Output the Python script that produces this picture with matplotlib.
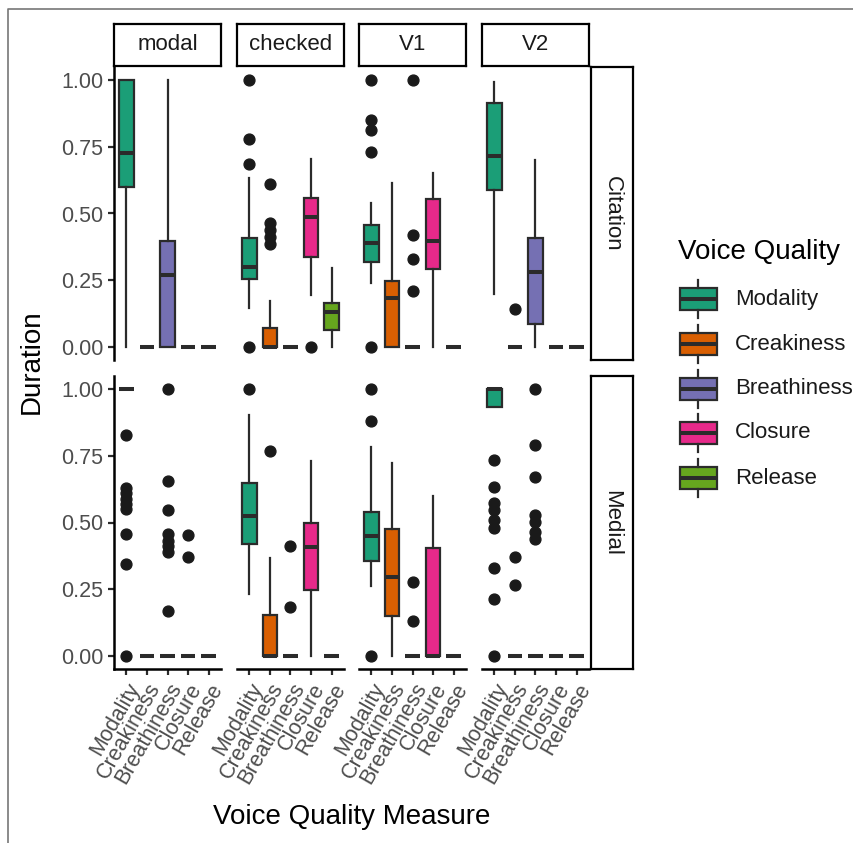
import numpy as np
import matplotlib
matplotlib.use("Agg")
import matplotlib.pyplot as plt
from matplotlib.lines import Line2D

plt.rcParams['font.family'] = ['Liberation Sans', 'DejaVu Sans']

# ---- data ----
measures = ["Modality", "Creakiness", "Breathiness", "Closure", "Release"]
vowels = ["modal", "checked", "V1", "V2"]
contexts = ["Citation", "Medial"]
colors = ["#1B9E77", "#D95F02", "#7570B3", "#E7298A", "#66A61E"]

# shape: [context][vowel][measure]
whis_lo = [
    [[0, 0, 0, 0, 0], [0.144, 0, 0, 0.194, 0], [0.24, 0, 0, 0, 0], [0.197, 0, 0, 0, 0]],
    [[1.0, 0, 0, 0, 0], [0.232, 0, 0, 0, 0], [0.26, 0, 0, 0, 0], [0.934, 0, 0, 0, 0]],
]
q1 = [
    [[0.598, 0, 0, 0, 0], [0.253, 0, 0, 0.338, 0.063], [0.317, 0, 0, 0.293, 0], [0.588, 0, 0.084, 0, 0]],
    [[1.0, 0, 0, 0, 0], [0.419, 0, 0, 0.245, 0], [0.356, 0.15, 0, 0, 0], [0.934, 0, 0, 0, 0]],
]
median = [
    [[0.726, 0, 0.269, 0, 0], [0.30, 0, 0, 0.488, 0.129], [0.39, 0.182, 0, 0.398, 0], [0.717, 0, 0.279, 0, 0]],
    [[1.0, 0, 0, 0, 0], [0.526, 0, 0, 0.407, 0], [0.449, 0.297, 0, 0, 0], [1.0, 0, 0, 0, 0]],
]
q3 = [
    [[1.0, 0, 0.397, 0, 0], [0.407, 0.069, 0, 0.557, 0.165], [0.457, 0.247, 0, 0.553, 0], [0.914, 0, 0.407, 0, 0]],
    [[1.0, 0, 0, 0, 0], [0.647, 0.154, 0, 0.499, 0], [0.538, 0.476, 0, 0.406, 0], [1.0, 0, 0, 0, 0]],
]
whis_hi = [
    [[1.0, 0, 1.0, 0, 0], [0.632, 0.173, 0, 0.703, 0.294], [0.538, 0.613, 0, 0.653, 0], [0.995, 0, 0.701, 0, 0]],
    [[1.0, 0, 0, 0, 0], [0.903, 0.366, 0, 0.731, 0], [0.784, 0.722, 0, 0.60, 0], [1.0, 0, 0, 0, 0]],
]
outliers = [
    [
        [[], [], [], [], []],
        [[1.0, 0.78, 0.685, 0.0], [0.611, 0.465, 0.438, 0.413, 0.386], [], [0.0], []],
        [[1.0, 0.851, 0.813, 0.732, 0.0], [], [1.0, 0.419, 0.33, 0.209], [], []],
        [[], [0.14], [], [], []],
    ],
    [
        [[0.828, 0.63, 0.61, 0.59, 0.57, 0.55, 0.455, 0.343, 0.0], [],
         [1.0, 0.657, 0.547, 0.455, 0.43, 0.41, 0.39, 0.169], [0.453, 0.37], []],
        [[1.0], [0.768], [0.413, 0.181], [], []],
        [[1.0, 0.881, 0.0], [], [0.275, 0.132], [], []],
        [[0.734, 0.632, 0.573, 0.547, 0.51, 0.48, 0.331, 0.212, 0.0], [0.372, 0.266],
         [1.0, 0.79, 0.669, 0.528, 0.503, 0.466, 0.437], [], []],
    ],
]

# ---- layout in pixels ----
W, H = 854, 843
fig = plt.figure(figsize=(W / 100, H / 100), dpi=100)

def px(l, t, w, h):
    return [l / W, 1 - (t + h) / H, w / W, h / H]

col_left = [114, 237, 359, 482]
panel_w = 107
row_top = [67, 376]
panel_h = 293

line_col = "#2b2b2b"
box_lw = 1.6
med_lw = 2.9

for r in range(2):
    for c in range(4):
        ax = fig.add_axes(px(col_left[c], row_top[r], panel_w, panel_h))
        stats = []
        for k in range(5):
            stats.append(dict(
                med=median[r][c][k], q1=q1[r][c][k], q3=q3[r][c][k],
                whislo=whis_lo[r][c][k], whishi=whis_hi[r][c][k],
                fliers=outliers[r][c][k]))
        bp = ax.bxp(stats, positions=range(1, 6), widths=0.72, patch_artist=True,
                    showcaps=False,
                    boxprops=dict(edgecolor=line_col, linewidth=box_lw),
                    whiskerprops=dict(color=line_col, linewidth=box_lw),
                    medianprops=dict(color=line_col, linewidth=med_lw, solid_capstyle="butt"),
                    flierprops=dict(marker="o", markersize=7.8, markerfacecolor="#1a1a1a",
                                    markeredgecolor="#1a1a1a"))
        for patch, col in zip(bp["boxes"], colors):
            patch.set_facecolor(col)

        ax.set_xlim(0.4, 5.6)
        ax.set_ylim(-0.05, 1.05)
        for s in ["top", "right"]:
            ax.spines[s].set_visible(False)
        ax.spines["left"].set_visible(c == 0)
        ax.spines["bottom"].set_visible(r == 1)
        for s in ["left", "bottom"]:
            ax.spines[s].set_linewidth(1.8)
            ax.spines[s].set_color("black")

        ax.set_yticks([0, 0.25, 0.5, 0.75, 1.0])
        ax.set_yticklabels(["0.00", "0.25", "0.50", "0.75", "1.00"])
        ax.set_xticks(range(1, 6))
        ax.set_xticklabels(measures, rotation=60, ha="right", va="top",
                           rotation_mode="anchor")
        ax.tick_params(axis="both", length=4.5, width=1.6, color=line_col,
                       labelsize=15.5, labelcolor="#4D4D4D", pad=3)
        ax.tick_params(axis="y", left=(c == 0), labelleft=(c == 0))
        ax.tick_params(axis="x", bottom=(r == 1), labelbottom=(r == 1))

# strips
for c in range(4):
    st = fig.add_axes(px(col_left[c], 24, panel_w, 42))
    st.set_xticks([])
    st.set_yticks([])
    for s in st.spines.values():
        s.set_linewidth(1.6)
    st.text(0.5, 0.5, vowels[c], ha="center", va="center", fontsize=16,
            color="#1A1A1A", transform=st.transAxes)

for r in range(2):
    st = fig.add_axes(px(591, row_top[r], 42, panel_h))
    st.set_xticks([])
    st.set_yticks([])
    for s in st.spines.values():
        s.set_linewidth(1.6)
    st.text(0.5, 0.5, contexts[r], ha="center", va="center", fontsize=16,
            color="#1A1A1A", rotation=270, transform=st.transAxes)

# axis titles
fig.text(32 / W, 1 - 362 / H, "Duration", rotation=90, ha="center", va="center",
         fontsize=20)
fig.text(352 / W, 1 - 817 / H, "Voice Quality Measure", ha="center", va="center",
         fontsize=20)

# legend + outer frame in pixel coordinates
lg = fig.add_axes([0, 0, 1, 1], zorder=-1)
lg.set_facecolor("none")
lg.axis("off")
key_y = [299, 344, 388.5, 433, 478]
leg_stats = [dict(med=y, q1=y - 11, q3=y + 11, whislo=y - 19, whishi=y + 19, fliers=[])
             for y in key_y]
for st_, col in zip(leg_stats, colors):
    b = lg.bxp([st_], positions=[698.5], widths=37, patch_artist=True, showcaps=False,
               boxprops=dict(edgecolor=line_col, linewidth=box_lw),
               whiskerprops=dict(color=line_col, linewidth=box_lw),
               medianprops=dict(color=line_col, linewidth=med_lw, solid_capstyle="butt"))
    b["boxes"][0].set_facecolor(col)
for y, name in zip(key_y, measures):
    lg.text(735, y, name, ha="left", va="center", fontsize=16, color="#1A1A1A")
lg.text(678, 252, "Voice Quality", ha="left", va="center", fontsize=20)
lg.add_line(Line2D([8.5, 8.5, 854], [843, 8.5, 8.5], color="#777777", linewidth=1.2))
lg.set_xlim(0, W)
lg.set_ylim(H, 0)

fig.savefig("out.png", dpi=100)
